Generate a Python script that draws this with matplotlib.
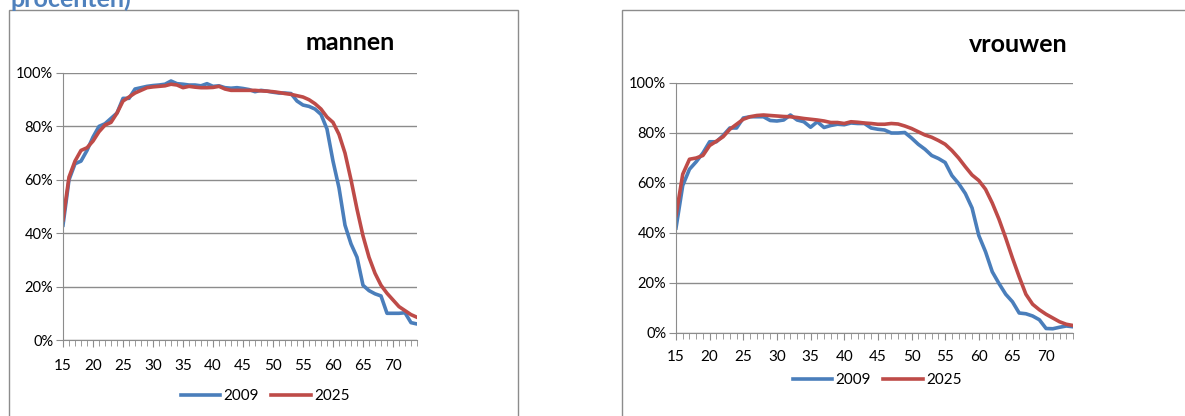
import numpy as np
import matplotlib
matplotlib.use("Agg")
from matplotlib import pyplot as plt
from matplotlib.patches import Rectangle
from matplotlib.ticker import PercentFormatter, MultipleLocator

ages = list(range(15, 75))

mannen_2009 = [43, 60, 66, 67, 71, 76, 80, 81, 83, 85,
               90.5, 90.5, 94, 94.5, 95, 95.3, 95.5, 95.8, 97, 96,
               95.8, 95.5, 95.5, 95.2, 96, 95, 95.2, 94.5, 94.3, 94.5,
               94.2, 93.8, 93, 93.5, 93.2, 92.8, 92.5, 92.5, 92.3, 89.5,
               88, 87.5, 86.5, 84.5, 79, 67, 57, 43, 36, 31,
               20.5, 18.5, 17.3, 16.5, 10, 10, 10, 10.2, 6.5, 6]
mannen_2025 = [45, 61, 67, 71, 72, 74.5, 78, 80.5, 81.5, 85,
               89.5, 91, 92.5, 93.5, 94.5, 94.8, 95, 95.2, 95.8, 95.5,
               94.5, 95, 94.7, 94.5, 94.5, 94.6, 95, 94, 93.5, 93.5,
               93.5, 93.5, 93.5, 93.3, 93.2, 93, 92.7, 92.3, 92, 91.5,
               91, 90, 88.5, 86.5, 83.5, 81.5, 77, 70, 60, 49,
               39, 31, 25, 20.5, 17.5, 15, 12.5, 11, 9.5, 8.5]
vrouwen_2009 = [42, 59, 65.5, 68.5, 72, 76.5, 76.5, 79, 82, 82,
                86, 86.5, 86.5, 86.5, 85, 84.8, 85.2, 87.2, 85.2, 84.5,
                82.3, 84.5, 82.2, 83, 83.5, 83.3, 84, 83.8, 83.8, 82,
                81.5, 81.2, 80, 80, 80.2, 78, 75.5, 73.5, 71, 69.8,
                68.2, 63, 59.8, 55.8, 50, 39, 32.5, 24.5, 19.8, 15.5,
                12.5, 8, 7.7, 6.8, 5.3, 1.8, 1.7, 2.3, 2.8, 2.5]
vrouwen_2025 = [47, 63.5, 69.5, 70, 71, 75, 76.7, 78.5, 81.5, 83.5,
                85.5, 86.5, 87, 87.2, 87, 86.8, 86.6, 86.5, 86.2, 85.8,
                85.5, 85.2, 84.8, 84.2, 84.2, 83.8, 84.5, 84.3, 84, 83.8,
                83.5, 83.5, 83.8, 83.6, 82.8, 81.8, 80.5, 79.2, 78.3, 77,
                75.5, 73, 70, 66.5, 63.2, 61, 57.5, 52, 45.5, 38,
                30, 22.5, 15.5, 11.5, 9.3, 7.5, 6, 4.5, 3.5, 3]

blue = "#4A7EBB"
red = "#BE4B48"
grid_c = "#8C8C8C"

plt.rcParams['font.family'] = ['Lato', 'DejaVu Sans']

fig = plt.figure(figsize=(11.85, 4.16), dpi=100)

# panel borders
fig.patches.append(Rectangle((9/1185, -0.05), 509/1185, 1 - 10/416 + 0.05,
                             transform=fig.transFigure, fill=False,
                             edgecolor="#8C8C8C", lw=1))
fig.patches.append(Rectangle((622/1185, -0.05), 0.5, 1 - 10/416 + 0.05,
                             transform=fig.transFigure, fill=False,
                             edgecolor="#8C8C8C", lw=1))

# heading cut off at the top, as in the source
fig.text(10/1185, 1 - 7/416, "procenten)", color="#4F81BD", fontsize=18,
         fontweight="bold", ha="left", va="baseline")

panels = [
    ("mannen", mannen_2009, mannen_2025, [63/1185, 1 - 340/416, 354/1185, 267/416],
     (350/1185, 1 - 43/416), (265/1185, 1 - 396/416), 9),
    ("vrouwen", vrouwen_2009, vrouwen_2025, [676/1185, 1 - 333/416, 397/1185, 250/416],
     (1018/1185, 1 - 45/416), (877/1185, 1 - 380/416), 7),
]

for title, s09, s25, rect, tpos, lpos, xpad in panels:
    ax = fig.add_axes(rect)
    ax.plot(ages, s09, color=blue, lw=2.6, label="2009", solid_joinstyle="round")
    ax.plot(ages, s25, color=red, lw=2.6, label="2025", solid_joinstyle="round")
    ax.set_xlim(15, 74)
    ax.set_ylim(0, 100)
    ax.yaxis.set_major_locator(MultipleLocator(20))
    ax.yaxis.set_major_formatter(PercentFormatter(decimals=0))
    ax.xaxis.set_major_locator(MultipleLocator(5))
    ax.xaxis.set_minor_locator(MultipleLocator(1))
    ax.grid(axis="y", color=grid_c, lw=1)
    ax.set_axisbelow(True)
    for sp in ["top", "right"]:
        ax.spines[sp].set_visible(False)
    ax.spines["left"].set_color(grid_c)
    ax.spines["bottom"].set_color(grid_c)
    ax.tick_params(axis="both", which="both", direction="out", color=grid_c)
    ax.tick_params(axis="x", which="major", length=5, pad=xpad, labelsize=11)
    ax.tick_params(axis="x", which="minor", length=4)
    ax.tick_params(axis="y", length=5, pad=2, labelsize=10.5)
    fig.text(tpos[0], tpos[1], title, fontsize=18, fontweight="bold",
             ha="center", va="center")
    fig.legend(handles=ax.get_lines(), loc="center", bbox_to_anchor=lpos,
               ncol=2, frameon=False, fontsize=11, handlelength=2.6,
               handletextpad=0.2, columnspacing=0.8,
               bbox_transform=fig.transFigure)

fig.savefig("out.png", dpi=100)
